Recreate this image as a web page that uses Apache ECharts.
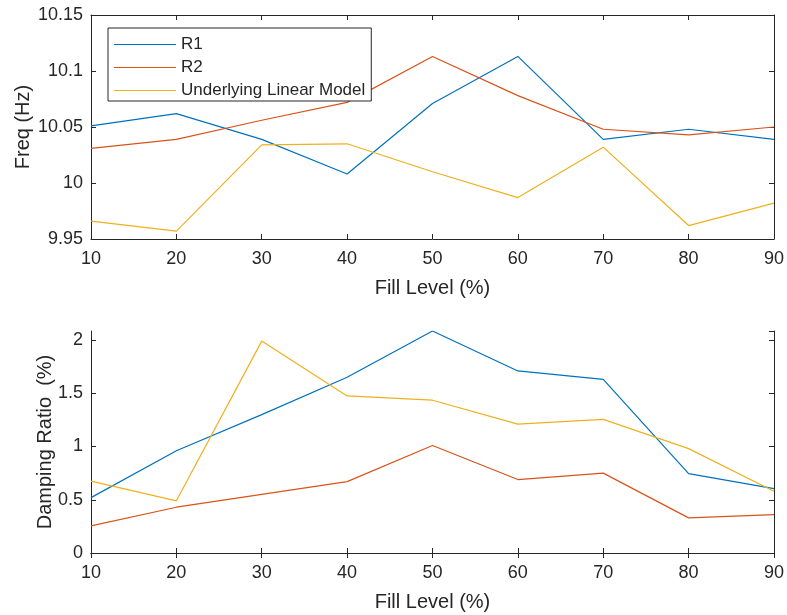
<!DOCTYPE html>
<html>
<head>
<meta charset="utf-8">
<script src="https://cdn.jsdelivr.net/npm/echarts@6/dist/echarts.min.js"></script>
<style>
html,body{margin:0;padding:0;background:#fff;}
#chart{width:787px;height:615px;}
</style>
</head>
<body>
<div id="chart"></div>
<script>
// ---- data ----
var fillLevels = [10, 20, 30, 40, 50, 60, 70, 80, 90];
var freqR1    = [10.051, 10.062, 10.039, 10.008, 10.071, 10.113, 10.039, 10.048, 10.039];
var freqR2    = [10.031, 10.039, 10.056, 10.072, 10.113, 10.078, 10.048, 10.043, 10.050];
var freqModel = [9.966, 9.957, 10.034, 10.035, 10.010, 9.987, 10.032, 9.962, 9.982];
var dampR1    = [0.52, 0.96, 1.30, 1.65, 2.085, 1.71, 1.63, 0.745, 0.605];
var dampR2    = [0.255, 0.43, 0.55, 0.67, 1.01, 0.69, 0.75, 0.33, 0.36];
var dampModel = [0.675, 0.49, 1.99, 1.475, 1.435, 1.21, 1.255, 0.98, 0.58];
var seriesNames = ['R1', 'R2', 'Underlying Linear Model'];
var xLabel = 'Fill Level (%)';
var yLabelTop = 'Freq (Hz)';
var yLabelBottom = 'Damping Ratio  (%)';

var colors = ['#0072BD', '#D95319', '#EDB120'];
var axisColor = '#262626';
var font = 'Liberation Sans, Arial, Helvetica, sans-serif';
var lineIcon = 'path://M0,0L0.01,0M0,6.4L62,6.4L62,7.6L0,7.6ZM62,14L61.99,14';

function pairs(xs, ys) { return xs.map(function (x, i) { return [x, ys[i]]; }); }
function fmt(v) { return String(parseFloat(v.toFixed(3))); }

function mainX(grid) {
  return {
    type: 'value', gridIndex: grid, min: 10, max: 90, interval: 10, position: 'bottom',
    name: xLabel, nameLocation: 'middle', nameGap: 39, nameMoveOverlap: false,
    nameTextStyle: { fontFamily: font, fontSize: 20, color: axisColor },
    axisLine: { show: true, lineStyle: { color: axisColor, width: 1 } },
    axisTick: { show: true, inside: true, length: 5, lineStyle: { color: axisColor } },
    axisLabel: { fontFamily: font, fontSize: 18, color: axisColor, margin: 11, formatter: fmt },
    splitLine: { show: false }
  };
}
function topX(grid) {
  return {
    type: 'value', gridIndex: grid, min: 10, max: 90, interval: 10, position: 'top',
    axisLine: { show: true, lineStyle: { color: axisColor, width: 1 } },
    axisTick: { show: true, inside: true, length: 5, lineStyle: { color: axisColor } },
    axisLabel: { show: false }, splitLine: { show: false }
  };
}
function mainY(grid, min, max, interval, name, gap) {
  return {
    type: 'value', gridIndex: grid, min: min, max: max, interval: interval, position: 'left',
    name: name, nameLocation: 'middle', nameGap: gap, nameMoveOverlap: false,
    nameTextStyle: { fontFamily: font, fontSize: 20, color: axisColor },
    axisLine: { show: true, lineStyle: { color: axisColor, width: 1 } },
    axisTick: { show: true, inside: true, length: 5, lineStyle: { color: axisColor } },
    axisLabel: { fontFamily: font, fontSize: 18, color: axisColor, margin: 8, formatter: fmt,
                 showMaxLabel: grid === 0 },
    splitLine: { show: false }
  };
}
function rightY(grid, min, max, interval) {
  return {
    type: 'value', gridIndex: grid, min: min, max: max, interval: interval, position: 'right',
    axisLine: { show: true, lineStyle: { color: axisColor, width: 1 } },
    axisTick: { show: true, inside: true, length: 5, lineStyle: { color: axisColor } },
    axisLabel: { show: false }, splitLine: { show: false }
  };
}
function line(name, xi, yi, data, color) {
  return {
    name: name, type: 'line', xAxisIndex: xi, yAxisIndex: yi, data: data,
    symbol: 'none', showSymbol: false, animation: false,
    lineStyle: { color: color, width: 1.2 }, itemStyle: { color: color }
  };
}

var chart = echarts.init(document.getElementById('chart'), null, { renderer: 'canvas' });
chart.setOption({
  backgroundColor: '#fff',
  animation: false,
  grid: [
    { left: 91, right: 13, top: 15, height: 224 },
    { left: 91, right: 13, top: 331, height: 222 }
  ],
  legend: {
    orient: 'vertical', left: 108, top: 28,
    data: seriesNames,
    icon: lineIcon,
    itemWidth: 62, itemHeight: 14, itemGap: 6,
    padding: [8, 6, 2, 6],
    borderColor: axisColor, borderWidth: 1, backgroundColor: '#fff',
    textStyle: { fontFamily: font, fontSize: 17, color: axisColor },
    selectedMode: false
  },
  xAxis: [mainX(0), topX(0), mainX(1), topX(1)],
  yAxis: [
    mainY(0, 9.95, 10.15, 0.05, yLabelTop, 58),
    rightY(0, 9.95, 10.15, 0.05),
    mainY(1, 0, 2.085, 0.5, yLabelBottom, 36),
    rightY(1, 0, 2.085, 0.5)
  ],
  series: [
    line(seriesNames[0], 0, 0, pairs(fillLevels, freqR1), colors[0]),
    line(seriesNames[1], 0, 0, pairs(fillLevels, freqR2), colors[1]),
    line(seriesNames[2], 0, 0, pairs(fillLevels, freqModel), colors[2]),
    line(seriesNames[0], 2, 2, pairs(fillLevels, dampR1), colors[0]),
    line(seriesNames[1], 2, 2, pairs(fillLevels, dampR2), colors[1]),
    line(seriesNames[2], 2, 2, pairs(fillLevels, dampModel), colors[2])
  ]
});
</script>
</body>
</html>
